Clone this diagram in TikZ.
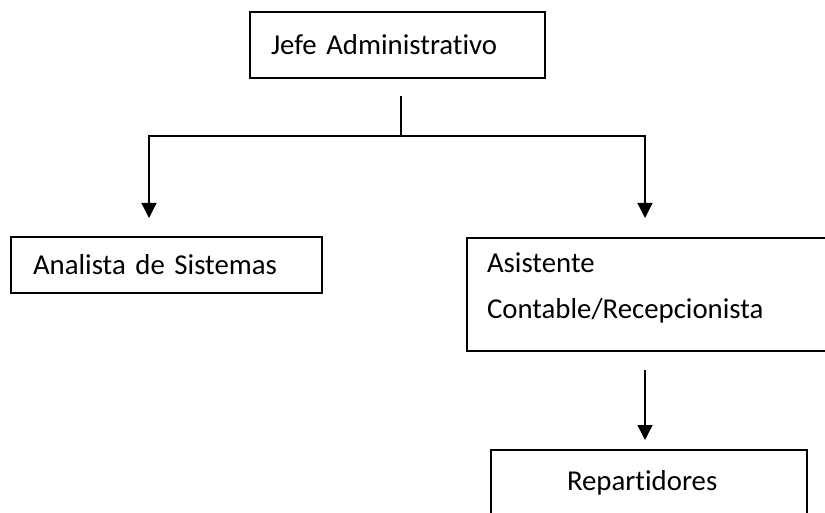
\documentclass[tikz,border=0pt]{standalone}
\usepackage{fontspec}
\setmainfont{Carlito}[Ligatures={NoCommon}]
\usetikzlibrary{arrows.meta}
\begin{document}
\begin{tikzpicture}[x=1pt,y=-1pt,
  box/.style={draw, line width=1.3pt, align=left, inner ysep=0pt,
    font=\fontsize{28.8}{46}\selectfont},
  conn/.style={line width=1.3pt},
  arr/.style={line width=1.3pt, -{Triangle[width=15pt,length=15pt]}}]
\useasboundingbox (0,0) rectangle (825,513);
\clip (0,0) rectangle (825,513);
\node[box, minimum width=295, minimum height=66, text width=253, inner xsep=21] (jefe) at (397.5,45) {Jefe Administrativo};
\node[box, minimum width=311, minimum height=56, text width=267, inner xsep=22] (analista) at (166.5,265) {Analista de Sistemas};
\node[box, minimum width=380, minimum height=113, text width=340, inner xsep=20] (asis) at (657,294.5) {Asistente\\Contable/Recepcionista\rule[-18pt]{0pt}{18pt}};
\node[box, minimum width=316, minimum height=80, text width=274, inner xsep=21] (rep) at (649,490) {\hspace*{55pt}Repartidores\rule[-20pt]{0pt}{20pt}};
\coordinate (stemtop) at (401,96);
\coordinate (bar) at (401,136);
\coordinate (tipL) at (149,218);
\coordinate (tipR) at (645,218);
\coordinate (a3) at (645,370);
\coordinate (tip3) at (645,440);
\draw[conn] (stemtop) -- (bar);
\draw[arr] (bar) -| (tipL);
\draw[arr] (bar) -| (tipR);
\draw[arr] (a3) -- (tip3);
\end{tikzpicture}
\end{document}
